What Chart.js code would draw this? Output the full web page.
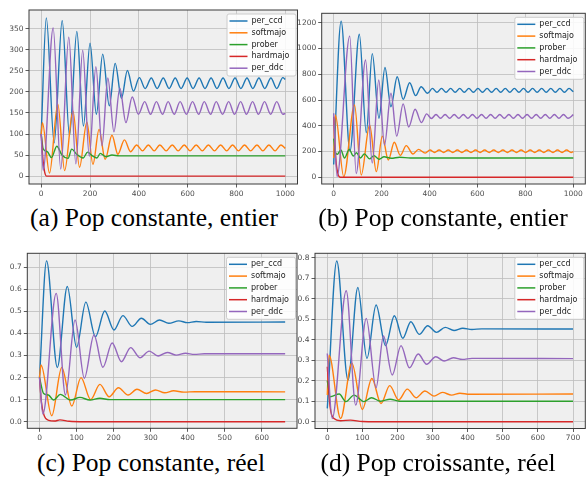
<!DOCTYPE html>
<html>
<head>
<meta charset="utf-8">
<script src="https://cdn.jsdelivr.net/npm/chart.js@4.4.1/dist/chart.umd.min.js"></script>
<style>
  body { margin: 0; background: #fff; width: 586px; height: 477px; position: relative; overflow: hidden; }
  canvas { position: absolute; }
  .cap { position: absolute; width: 290px; text-align: center; white-space: nowrap;
         font-family: "Liberation Serif", serif; font-size: 25.5px; line-height: 25px; color: #000; }
</style>
</head>
<body>
<canvas id="pa" width="300" height="200" style="left:0;top:0"></canvas>
<canvas id="pb" width="296" height="200" style="left:290px;top:0"></canvas>
<canvas id="pc" width="300" height="205" style="left:0;top:240px"></canvas>
<canvas id="pd" width="296" height="205" style="left:290px;top:240px"></canvas>
<div class="cap" style="left:9px;top:205px">(a) Pop constante, entier</div>
<div class="cap" style="left:298px;top:205px">(b) Pop constante, entier</div>
<div class="cap" style="left:6px;top:450px">(c) Pop constante, réel</div>
<div class="cap" style="left:293px;top:450px">(d) Pop croissante, réel</div>
<script>
const names = ["per_ccd", "softmajo", "prober", "hardmajo", "per_ddc"];
const colors = ["#1f77b4", "#ff7f0e", "#2ca02c", "#d62728", "#9467bd"];

// (a) Pop constante, entier  -- [t, value]
const aCcd = [[0,100],[21,376],[53,79],[86,370],[116,96],[146,344],[173,119],[200,316],[226,147],[252,290],[279,167],[303,268],[329,185],[353,251],[378,202],[402,234],[426,208],[451,233],[475,208],[500,233],[524,208],[549,233],[573,208],[598,233],[622,208],[647,233],[671,208],[696,233],[720,208],[745,233],[769,208],[794,233],[818,208],[843,233],[867,208],[892,233],[916,208],[941,233],[965,208],[990,234],[1000,230]];
const aSoft = [[0,100],[5,127],[34,7],[68,171],[96,13],[130,155],[157,21],[187,128],[212,28],[237,111],[262,40],[290,97],[314,52],[341,86],[366,58],[391,74],[415,60],[439,74],[463,60],[486,74],[512,60],[537,74],[561,60],[586,74],[610,60],[635,74],[660,60],[685,74],[710,60],[735,74],[760,60],[784,74],[808,60],[833,74],[858,60],[884,74],[908,60],[933,74],[958,60],[982,74],[1000,66]];
const aProb = [[0,100],[8,65],[25,58],[42,44],[64,71],[85,50],[110,42],[125,64],[145,52],[172,43],[190,57],[210,48],[228,43],[242,54],[265,46],[290,50],[320,48],[1000,48]];
const aHard = [[0,100],[7,40],[14,10],[22,0],[1000,0]];
const aDdc = [[0,100],[8,14],[49,352],[80,17],[113,330],[142,29],[170,299],[197,47],[224,260],[249,72],[273,233],[298,105],[322,209],[347,127],[373,188],[398,147],[424,177],[448,147],[472,177],[497,147],[520,177],[545,147],[569,177],[595,147],[620,177],[645,147],[668,177],[694,147],[717,177],[743,147],[768,177],[792,147],[817,177],[841,147],[866,177],[890,147],[915,177],[940,147],[965,177],[990,147],[1000,149]];

// (b) Pop constante, entier
const bCcd = [[0,100],[31,1212],[68,205],[107,1110],[136,346],[161,960],[189,458],[214,852],[239,548],[265,780],[290,605],[317,734],[342,634],[365,703],[392,652],[412,690],[431,660],[450,690],[469,660],[488,690],[507,660],[526,690],[545,660],[564,690],[583,660],[602,690],[621,660],[640,690],[659,660],[678,690],[697,660],[716,690],[735,660],[754,690],[773,660],[792,690],[811,660],[830,690],[849,660],[868,690],[887,660],[906,690],[925,660],[944,690],[963,660],[982,690],[1000,664]];
const bSoft = [[0,150],[7,484],[42,5],[87,561],[115,18],[150,406],[178,44],[203,320],[228,134],[253,272],[278,170],[303,246],[331,181],[354,217],[382,188],[402,212],[421,192],[440,212],[459,192],[478,212],[497,192],[516,212],[535,192],[554,212],[573,192],[592,212],[611,192],[630,212],[649,192],[668,212],[687,192],[706,212],[725,192],[744,212],[763,192],[782,212],[801,192],[820,212],[839,192],[858,212],[877,192],[896,212],[915,192],[934,212],[953,192],[972,212],[991,192],[1000,200]];
const bProb = [[0,300],[8,190],[15,178],[30,212],[45,150],[65,217],[82,165],[95,190],[112,150],[128,182],[150,143],[168,168],[190,140],[210,160],[240,148],[275,156],[320,150],[1000,150]];
const bHard = [[0,470],[5,260],[11,100],[18,25],[28,0],[1000,0]];
const bDdc = [[0,497],[14,8],[67,1096],[94,30],[133,910],[161,110],[188,755],[212,250],[239,652],[263,320],[290,570],[313,390],[340,528],[366,425],[388,492],[408,456],[427,488],[446,458],[465,488],[484,458],[503,488],[522,458],[541,488],[560,458],[579,488],[598,458],[617,488],[636,458],[655,488],[674,458],[693,488],[712,458],[731,488],[750,458],[769,488],[788,458],[807,488],[826,458],[845,488],[864,458],[883,488],[902,458],[921,488],[940,458],[959,488],[978,458],[1000,486]];

// (c) Pop constante, réel
const cCcd = [[0,0.2],[19,0.729],[48,0.246],[75,0.613],[100,0.337],[125,0.542],[151,0.385],[176,0.502],[201,0.416],[225,0.481],[250,0.432],[275,0.469],[299,0.441],[324,0.461],[349,0.446],[376,0.457],[399,0.449],[423,0.454],[450,0.451],[663,0.452]];
const cSoft = [[0,0.2],[4,0.257],[33,0.027],[60,0.246],[87,0.071],[112,0.2],[138,0.1],[163,0.169],[188,0.113],[213,0.154],[239,0.121],[263,0.147],[289,0.128],[313,0.144],[338,0.131],[362,0.14],[390,0.134],[420,0.136],[663,0.135]];
const cProb = [[0,0.2],[11,0.128],[24,0.121],[38,0.098],[56,0.124],[84,0.098],[109,0.11],[136,0.098],[163,0.106],[190,0.1],[663,0.1]];
const cHard = [[0,0.2],[5,0.09],[12,0.03],[25,0.006],[40,0.003],[55,0.008],[80,0.002],[120,0],[663,0]];
const cDdc = [[0,0.2],[9,0.035],[45,0.582],[70,0.121],[96,0.461],[121,0.197],[147,0.393],[171,0.247],[196,0.357],[221,0.272],[246,0.336],[271,0.29],[296,0.32],[320,0.298],[345,0.314],[369,0.302],[394,0.31],[418,0.305],[445,0.308],[663,0.308]];

// (d) Pop croissante, réel
const dCcd = [[0,0.065],[27,0.784],[59,0.203],[87,0.655],[113,0.309],[139,0.569],[166,0.371],[191,0.517],[215,0.407],[238,0.488],[262,0.426],[286,0.468],[311,0.436],[336,0.46],[361,0.445],[386,0.456],[412,0.45],[440,0.453],[700,0.452]];
const dSoft = [[0,0.13],[5,0.325],[38,0.016],[70,0.285],[100,0.06],[127,0.211],[153,0.089],[178,0.176],[203,0.106],[228,0.159],[253,0.117],[278,0.15],[304,0.125],[328,0.143],[354,0.13],[378,0.139],[405,0.134],[700,0.135]];
const dProb = [[0,0.2],[8,0.122],[34,0.135],[53,0.098],[76,0.13],[104,0.098],[126,0.117],[152,0.1],[179,0.11],[205,0.1],[700,0.1]];
const dHard = [[0,0.268],[8,0.073],[19,0.016],[38,0.005],[66,0.008],[100,0.001],[140,0],[700,0]];
const dDdc = [[0,0.333],[14,0.016],[54,0.639],[81,0.081],[111,0.504],[139,0.166],[160,0.418],[185,0.228],[210,0.371],[234,0.263],[259,0.33],[283,0.28],[309,0.317],[333,0.296],[359,0.312],[385,0.304],[412,0.309],[700,0.308]];

// tick labels
const xTicksAB = [0, 200, 400, 600, 800, 1000];
const yTicksA = [0, 50, 100, 150, 200, 250, 300, 350];
const yTicksB = [0, 200, 400, 600, 800, 1000, 1200];
const xTicksC = [0, 100, 200, 300, 400, 500, 600];
const yTicksC = [0, 0.1, 0.2, 0.3, 0.4, 0.5, 0.6, 0.7];
const xTicksD = [0, 100, 200, 300, 400, 500, 600, 700];
const yTicksD = [0, 0.1, 0.2, 0.3, 0.4, 0.5, 0.6, 0.7, 0.8];

// background, frame and legend drawn in the plot area like matplotlib
const panelDeco = {
	id: "panelDeco",
	beforeDraw(chart) {
		const { ctx, chartArea: a } = chart;
		ctx.save();
		ctx.fillStyle = "#efefef";
		ctx.fillRect(a.left, a.top, a.right - a.left, a.bottom - a.top);
		ctx.restore();
	},
	afterDraw(chart) {
		const { ctx, chartArea: a } = chart;
		ctx.save();
		ctx.strokeStyle = "#3a3a3a";
		ctx.lineWidth = 1;
		ctx.strokeRect(a.left, a.top, a.right - a.left, a.bottom - a.top);

		const w = 69, h = 62;
		const x0 = a.right - 2 - w, y0 = a.top + 3.5;
		ctx.fillStyle = "rgba(255,255,255,0.85)";
		ctx.strokeStyle = "#cccccc";
		ctx.beginPath();
		ctx.roundRect(x0 + 0.5, y0 + 0.5, w, h, 2);
		ctx.fill();
		ctx.stroke();
		ctx.font = "8px 'DejaVu Sans'";
		ctx.textBaseline = "middle";
		chart.data.datasets.forEach((ds, i) => {
			const y = y0 + 7.5 + i * 11.8;
			ctx.strokeStyle = ds.borderColor;
			ctx.lineWidth = 1.5;
			ctx.beginPath();
			ctx.moveTo(x0 + 3, y);
			ctx.lineTo(x0 + 21, y);
			ctx.stroke();
			ctx.fillStyle = "#222";
			ctx.fillText(ds.label, x0 + 25, y);
		});
		ctx.restore();
	}
};

function axis(min, max, ticks, fmt, size, isX) {
	return {
		type: "linear",
		min: min,
		max: max,
		afterBuildTicks: (s) => { s.ticks = ticks.map(v => ({ value: v })); },
		afterFit: (s) => { if (isX) s.height = size; else s.width = size; },
		border: { display: false },
		grid: { color: "#bdbdbd", lineWidth: 0.8, tickColor: "#333", tickLength: 3.5, tickWidth: 0.8 },
		ticks: {
			autoSkip: false,
			maxRotation: 0,
			padding: 2,
			color: "#4d4d4d",
			font: { family: "DejaVu Sans", size: 7.5 },
			callback: fmt
		}
	};
}

function makePanel(id, series, xr, yr, xTicks, yTicks, yFmt, pad, yWidth, xHeight) {
	new Chart(document.getElementById(id), {
		type: "line",
		data: {
			datasets: series.map((s, i) => ({
				label: names[i],
				data: s.map(p => ({ x: p[0], y: p[1] })),
				borderColor: colors[i],
				borderWidth: 1.4,
				pointRadius: 0,
				cubicInterpolationMode: "monotone",
				fill: false,
				order: 4 - i
			}))
		},
		options: {
			responsive: false,
			animation: false,
			events: [],
			layout: { padding: pad },
			plugins: { legend: { display: false }, tooltip: { enabled: false } },
			scales: {
				x: axis(xr[0], xr[1], xTicks, v => String(v), xHeight, true),
				y: axis(yr[0], yr[1], yTicks, yFmt, yWidth, false)
			}
		},
		plugins: [panelDeco]
	});
}

const intFmt = v => String(v);
const decFmt = v => v.toFixed(1);

makePanel("pa", [aCcd, aSoft, aProb, aHard, aDdc], [-50, 1050], [-18.8, 394.8], xTicksAB, yTicksA, intFmt,
	{ left: 0, top: 10, right: 2.5, bottom: 0 }, 29, 16);
makePanel("pb", [bCcd, bSoft, bProb, bHard, bDdc], [-50, 1050], [-52, 1273], xTicksAB, yTicksB, intFmt,
	{ left: 0, top: 13.3, right: 0.7, bottom: 0 }, 31.7, 16);
makePanel("pc", [cCcd, cSoft, cProb, cHard, cDdc], [-33, 695], [-0.03, 0.7635], xTicksC, yTicksC, decFmt,
	{ left: 0, top: 13.3, right: 3, bottom: 0 }, 27.3, 16.7);
makePanel("pd", [dCcd, dSoft, dProb, dHard, dDdc], [-35, 735], [-0.033, 0.8215], xTicksD, yTicksD, decFmt,
	{ left: 0, top: 13.3, right: 0.7, bottom: 0 }, 25, 16.5);
</script>
</body>
</html>
